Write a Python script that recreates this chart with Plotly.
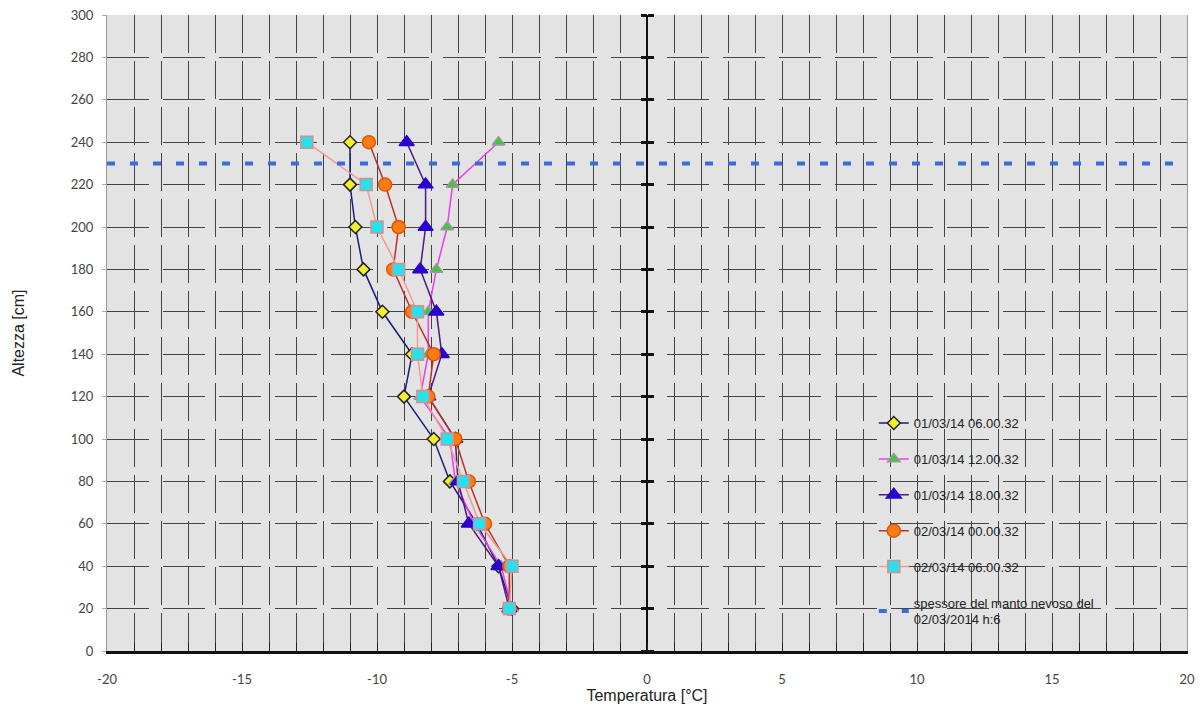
import plotly.graph_objects as go

# heights of the measurement points [cm]
heights = [240, 220, 200, 180, 160, 140, 120, 100, 80, 60, 40, 20]

# temperature profiles [°C]
t_0103_06 = [-11.0, -11.0, -10.8, -10.5, -9.8, -8.7, -9.0, -7.9, -7.3, -6.3, -5.5, -5.0]
t_0103_12 = [-5.5, -7.2, -7.4, -7.8, -8.1, -8.1, -8.4, -7.3, -7.1, -6.4, -5.4, -5.0]
t_0103_18 = [-8.9, -8.2, -8.2, -8.4, -7.8, -7.6, -8.1, -7.1, -7.0, -6.6, -5.5, -5.1]
t_0203_00 = [-10.3, -9.7, -9.2, -9.4, -8.7, -7.9, -8.1, -7.1, -6.6, -6.0, -5.1, -5.1]
t_0203_06 = [-12.6, -10.4, -10.0, -9.2, -8.5, -8.5, -8.3, -7.4, -6.8, -6.2, -5.0, -5.1]

# snow depth line
snow_x = [-20, 20]
snow_y = [230, 230]

x_ticks = [-20, -15, -10, -5, 0, 5, 10, 15, 20]
x_labels = ['-20', '-15', '-10', '-5', '0', '5', '10', '15', '20']
y_ticks = list(range(0, 301, 20))

series = [
    ('01/03/14 06.00.32', t_0103_06, '#1c1c7a', 'diamond', '#f4ef2a', '#222222', 10),
    ('01/03/14 12.00.32', t_0103_12, '#f03cf0', 'triangle-up', '#3fc63f', '#9a9a9a', 11),
    ('01/03/14 18.00.32', t_0103_18, '#4b1a7e', 'triangle-up', '#2a00d0', '#2a00d0', 13),
    ('02/03/14 00.00.32', t_0203_00, '#b8322a', 'circle', '#ff7c12', '#e05500', 13),
    ('02/03/14 06.00.32', t_0203_06, '#f59a90', 'square', '#25e2ee', '#d49090', 12),
]

fig = go.Figure()

for i, (name, temps, lcol, sym, mcol, mline, msize) in enumerate(series):
    fig.add_trace(go.Scatter(
        x=temps, y=heights, name=name, mode='lines+markers',
        line=dict(color=lcol, width=1.5),
        marker=dict(symbol=sym, color=mcol, size=msize, line=dict(color=mline, width=1.5)),
        legendgroup='g%d' % i,
    ))

fig.add_trace(go.Scatter(
    x=snow_x, y=snow_y, mode='lines',
    name='spessore del manto nevoso del<br>02/03/2014 h:6',
    line=dict(color='#3b6be0', width=4, dash='8px,15px'),
    legendgroup='snow',
))

# invisible helpers so the crossing ticks on the x=0 axis get drawn
for ax in ['y2', 'y3']:
    fig.add_trace(go.Scatter(x=snow_x, y=snow_y, yaxis=ax, mode='lines', opacity=0,
                             showlegend=False, hoverinfo='skip'))

# page body has an 8px margin, so the margins are shifted to compensate
fig.update_layout(
    width=1203, height=711,
    margin=dict(l=99, r=24, t=7, b=68),
    paper_bgcolor='white',
    plot_bgcolor='#e3e3e3',
    font=dict(family='Liberation Sans, Arial, sans-serif', color='#333333'),
    xaxis=dict(
        range=[-20, 20], tickvals=x_ticks, ticktext=x_labels, automargin=False,
        tickfont=dict(family='Lato, sans-serif', size=13, color='#444444'),
        ticks='inside', ticklen=8, tickcolor='#222222', tickwidth=1,
        ticklabelstandoff=14, ticklabeloverflow='allow',
        showline=True, linecolor='#111111', linewidth=3,
        showgrid=True, gridcolor='#444444', gridwidth=1, griddash='38px,8px',
        zeroline=True, zerolinecolor='#111111', zerolinewidth=2,
        minor=dict(dtick=1, ticks='inside', ticklen=8, tickcolor='#222222',
                   showgrid=True, gridcolor='#444444', gridwidth=1, griddash='38px,8px'),
        title=dict(text='Temperatura [°C]', font=dict(size=16, color='#222222'), standoff=2),
    ),
    yaxis=dict(
        range=[0, 300], tickvals=y_ticks, automargin=False,
        tickfont=dict(family='Lato, sans-serif', size=13, color='#444444'),
        ticks='outside', ticklen=4, tickcolor='#aaaaaa',
        ticklabelstandoff=6, ticklabeloverflow='allow',
        showline=True, linecolor='#9a9a9a', linewidth=1, mirror=True,
        showgrid=True, gridcolor='#444444', gridwidth=1, griddash='42px,14px',
        zeroline=False,
        title=dict(text='Altezza [cm]', font=dict(size=16, color='#222222'), standoff=42),
    ),
    yaxis2=dict(
        range=[0, 300], tickvals=y_ticks, overlaying='y', anchor='free', position=0.5,
        automargin=False,
        showticklabels=False, ticks='outside', ticklen=6, tickwidth=3, tickcolor='#111111',
        showline=False, showgrid=False, zeroline=False,
    ),
    yaxis3=dict(
        range=[0, 300], tickvals=y_ticks, overlaying='y', anchor='free', position=0.5,
        side='right', automargin=False,
        showticklabels=False, ticks='outside', ticklen=6, tickwidth=3, tickcolor='#111111',
        showline=False, showgrid=False, zeroline=False,
    ),
    legend=dict(
        x=0.710, y=0.382, xanchor='left', yanchor='top',
        bgcolor='rgba(0,0,0,0)', font=dict(size=13, color='#222222'),
        tracegroupgap=16,
    ),
    showlegend=True,
)

fig.write_html("out.html")
